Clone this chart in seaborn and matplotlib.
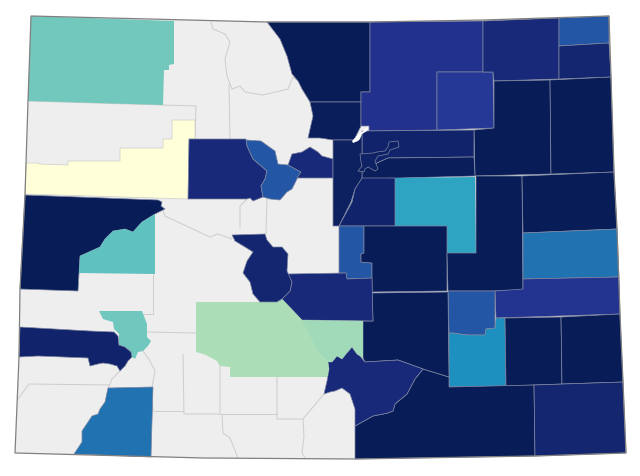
import matplotlib
matplotlib.use("Agg")
import matplotlib.pyplot as plt
from matplotlib.collections import PolyCollection, LineCollection
from matplotlib.colors import Normalize
import seaborn as sns

sns.set_theme(style="white")

state_outline = [(31,17),(267,23),(370,23),(483,21),(609,17),(611,78),(614,173),(617,230),(620,315),(623,383),(626,454),(535,457),(355,460),(204,459),(15,454),(19,358),(20,290),(25,196),(28,102)]

counties = {
 "Moffat": (0.40, [(31,17),(174,22),(174,65),(169,66),(169,71),(164,71),(163,106),(28,102)]),
 "Garfield": (0.0, [(26,164),(38,164),(40,165),(68,166),(68,162),(120,162),(120,149),(163,149),(163,140),(172,140),(172,121),(195,121),(195,140),(189,140),(188,200),(25,195)]),
 "Eagle": (0.93, [(189,140),(246,140),(247,147),(253,160),(267,172),(265,180),(261,187),(263,198),(253,202),(250,199),(247,200),(188,200)]),
 "Summit": (0.77, [(246,141),(261,142),(275,152),(278,165),(288,166),(301,173),(297,180),(292,190),(287,193),(280,201),(270,200),(263,198),(261,187),(265,180),(267,172),(253,160),(247,147)]),
 "ClearCreek": (0.93, [(288,166),(292,155),(302,153),(310,148),(318,153),(322,157),(333,160),(333,179),(297,179),(301,173)]),
 "Larimer": (1.0, [(267,23),(370,23),(370,93),(361,93),(361,103),(310,103),(302,90),(298,82),(292,75),(287,57),(280,40)]),
 "Boulder": (0.99, [(310,103),(361,103),(361,127),(354,141),(333,141),(320,139),(308,139),(313,117)]),
 "Weld": (0.89, [(370,23),(483,22),(483,73),(437,73),(437,131),(369,132),(369,127),(361,127),(361,93),(370,93)]),
 "Morgan": (0.86, [(437,73),(493,73),(494,129),(437,131)]),
 "Logan": (0.93, [(483,22),(559,19),(559,80),(494,82),(493,73),(483,73)]),
 "Sedgwick": (0.77, [(559,19),(609,17),(609,44),(559,47)]),
 "Phillips": (0.95, [(559,47),(609,44),(611,78),(559,80)]),
 "Washington": (1.0, [(494,82),(550,81),(551,175),(475,177),(474,131),(494,129)]),
 "Yuma": (1.0, [(550,81),(611,78),(614,173),(551,175)]),
 "Adams": (0.96, [(362,132),(474,131),(474,158),(388,159),(375,165),(362,168)]),
 "Arapahoe": (0.99, [(362,168),(375,165),(388,159),(474,158),(475,177),(362,180)]),
 "Jefferson": (0.98, [(333,141),(354,141),(362,134),(362,180),(355,190),(351,203),(339,227),(333,227)]),
 "Elbert": (0.56, [(395,179),(475,178),(476,254),(447,254),(447,227),(395,227)]),
 "Douglas": (0.96, [(362,179),(395,179),(395,227),(339,227),(352,203),(355,190)]),
 "Teller": (0.77, [(339,227),(364,227),(364,254),(361,255),(361,263),(372,264),(372,279),(347,280),(346,274),(339,274)]),
 "ElPaso": (1.0, [(364,227),(447,227),(447,292),(372,293),(372,264),(361,263),(361,255),(364,254)]),
 "Lincoln": (1.0, [(476,177),(522,177),(523,291),(495,292),(448,292),(447,254),(476,254)]),
 "KitCarson": (1.0, [(522,177),(614,173),(617,230),(523,234)]),
 "Cheyenne": (0.70, [(523,234),(617,230),(619,278),(523,280)]),
 "Kiowa": (0.88, [(495,292),(523,290),(523,280),(619,278),(620,315),(496,319)]),
 "Crowley": (0.77, [(448,292),(495,292),(495,329),(486,330),(485,336),(467,336),(453,334),(449,334)]),
 "Otero": (0.625, [(449,334),(453,334),(467,336),(485,336),(486,330),(495,329),(496,319),(505,319),(506,387),(449,388)]),
 "Bent": (1.0, [(505,319),(561,318),(562,385),(506,387)]),
 "Prowers": (1.0, [(561,318),(620,315),(623,383),(562,385)]),
 "LasAnimas": (1.0, [(449,388),(534,386),(535,457),(355,460),(355,427),(373,417),(388,414),(393,412),(395,405),(407,395),(415,380),(423,370),(449,378)]),
 "Baca": (0.95, [(534,386),(623,383),(626,454),(535,457)]),
 "Pueblo": (1.0, [(372,294),(448,293),(449,378),(423,370),(398,361),(365,363),(363,359),(363,322),(373,322)]),
 "Huerfano": (0.93, [(324,395),(327,382),(329,370),(328,363),(332,363),(337,357),(342,360),(346,355),(352,348),(357,355),(360,357),(365,363),(398,361),(423,370),(415,380),(407,395),(395,405),(393,412),(388,414),(373,417),(355,427),(355,410),(350,395),(342,389),(335,392),(330,393)]),
 "Fremont": (0.93, [(287,275),(346,274),(347,280),(372,279),(373,322),(302,321),(282,300),(290,292),(292,283)]),
 "Custer": (0.32, [(299,321),(363,322),(363,359),(360,357),(357,355),(352,348),(346,355),(342,360),(337,357),(332,363),(328,363),(320,356)]),
 "Saguache": (0.30, [(196,303),(277,303),(282,300),(302,321),(320,356),(328,363),(329,370),(327,378),(230,378),(230,368),(220,367),(217,362),(206,356),(200,354),(196,353)]),
 "Chaffee": (0.95, [(232,236),(265,235),(267,241),(273,248),(282,248),(288,255),(287,272),(292,283),(290,292),(282,300),(277,303),(260,303),(253,295),(250,283),(243,274),(247,262),(253,253),(245,248),(235,242)]),
 "Mesa": (1.0, [(25,196),(158,201),(162,203),(161,207),(165,210),(155,215),(142,223),(133,233),(125,230),(113,232),(105,240),(100,248),(80,257),(78,292),(20,290)]),
 "Delta": (0.44, [(155,215),(155,275),(79,274),(80,257),(100,248),(105,240),(113,232),(125,230),(133,233),(142,223)]),
 "Ouray": (0.41, [(99,312),(142,312),(147,325),(147,338),(151,342),(148,347),(143,352),(138,353),(135,360),(132,358),(131,353),(125,348),(119,346),(119,335),(114,330),(113,323),(103,320)]),
 "SanMiguel": (0.96, [(20,328),(90,332),(114,333),(118,337),(119,346),(125,348),(131,353),(132,358),(128,362),(125,367),(120,372),(117,367),(110,365),(103,364),(98,365),(90,367),(88,359),(38,357),(19,358)]),
 "LaPlata": (0.70, [(108,389),(153,388),(151,458),(74,455),(82,443),(82,432),(88,423),(92,417),(98,415),(100,410),(105,403)]),
 "Denver": (0.97, [(360,155),(373,154),(377,153),(385,152),(388,148),(389,143),(398,142),(399,148),(390,151),(388,155),(378,157),(375,162),(378,170),(375,172),(368,168),(365,170),(364,173),(358,172),(362,167),(361,163)]),
}
broomfield = [(368,127),(367,132),(362,135),(360,140),(358,142),(353,144),(352,142),(357,137),(363,132)]

grey_borders = [
 [(211,23),(213,30),(225,35),(230,43),(225,60),(227,77),(232,90),(240,87),(245,93),(257,95),(263,96),(288,90),(293,78),(298,82)],
 [(229,85),(230,140)],
 [(28,102),(163,106),(196,107),(195,140)],
 [(160,203),(165,217),(197,232),(210,238),(218,235),(232,240)],
 [(247,200),(240,207),(240,230)],
 [(267,200),(266,235)],
 [(153,275),(153,315),(143,315)],
 [(147,333),(196,334)],
 [(153,412),(183,412)],
 [(183,355),(184,415),(220,415),(220,367)],
 [(220,415),(277,415)],
 [(277,378),(277,420),(303,420),(324,395)],
 [(303,420),(304,437),(302,454),(305,459)],
 [(222,415),(223,434),(230,439),(238,459)],
 [(18,400),(29,385),(110,386)],
 [(120,372),(112,380),(110,385),(108,389)],
 [(143,352),(150,362),(155,372),(152,388)],
 [(152,388),(153,412)],
]

names = list(counties)
values = [counties[n][0] for n in names]
shapes = [counties[n][1] for n in names]
edges = ["#7f86a0" if v >= 0.6 else ("#cccccc" if v <= 0.1 else "none") for v in values]

cmap = sns.color_palette("YlGnBu", as_cmap=True)

fig = plt.figure(figsize=(6.4, 4.77), dpi=100)
ax = fig.add_axes([0, 0, 1, 1])
ax.set_xlim(0, 640)
ax.set_ylim(477, 0)
ax.axis("off")

ax.fill(*zip(*state_outline), facecolor="#eeeeee", edgecolor="none", zorder=1)
ax.add_collection(LineCollection(grey_borders, colors="#cccccc", linewidths=0.7, zorder=2))
ax.add_collection(PolyCollection(shapes, array=values, cmap=cmap, norm=Normalize(0, 1),
                                 edgecolors=edges, linewidths=0.5, zorder=3))
ax.fill(*zip(*broomfield), facecolor="white", edgecolor="none", zorder=4)
ax.fill(*zip(*state_outline), facecolor="none", edgecolor="#808080", linewidth=0.9, zorder=5)

fig.savefig("out.png", dpi=100)
